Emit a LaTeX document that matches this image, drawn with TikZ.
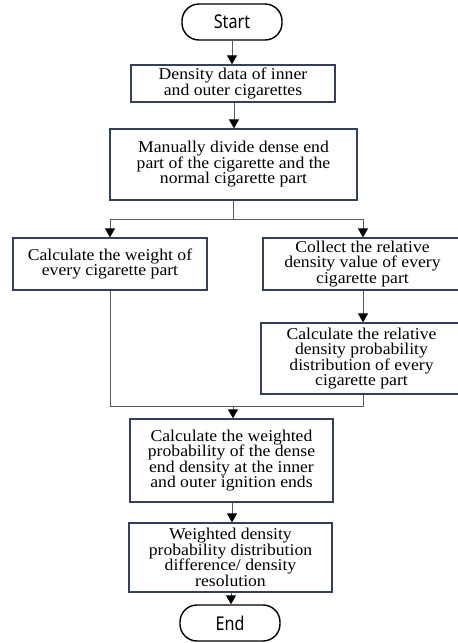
\documentclass[tikz,border=0pt]{standalone}
\usepackage{fontspec}
\setmainfont[FakeStretch=1.07]{Liberation Serif}
\newfontfamily\termfont[FakeStretch=0.85]{Noto Sans}
\usetikzlibrary{arrows.meta}
\definecolor{boxline}{HTML}{34405E}
\definecolor{conn}{HTML}{5A5A5A}
\tikzset{
  procbox/.style={draw=boxline, line width=1.3pt, fill=white, inner sep=0pt, align=center,
    font=\fontsize{16.5}{15.5}\selectfont},
  termbox/.style={draw=black, line width=1.4pt, rounded corners=17pt, inner sep=0pt,
    minimum width=100pt, minimum height=36pt, font=\termfont\fontsize{19}{20}\selectfont},
  flow/.style={draw=conn, line width=1pt},
  flowarrow/.style={flow, -{Triangle[width=10pt,length=9pt,color=black]}}
}
\begin{document}
\begin{tikzpicture}[x=1pt,y=-1pt]
\useasboundingbox (0,0) rectangle (458,643);
\node[termbox] (start) at (232,22) {Start};
\node[procbox, minimum width=204pt, minimum height=37pt] (b1) at (233,83.5)
  {Density data of inner\\and outer cigarettes};
\node[procbox, minimum width=247pt, minimum height=71pt] (b2) at (233.5,164.5)
  {Manually divide dense end\\part of the cigarette and the\\normal cigarette part};
\node[procbox, minimum width=194pt, minimum height=52pt] (left) at (110,264)
  {Calculate the weight of\\every cigarette part};
\node[procbox, minimum width=199pt, minimum height=52pt] (right) at (362.5,264)
  {Collect the relative\\density value of every\\cigarette part};
\node[procbox, minimum width=201pt, minimum height=71pt] (b5) at (361.5,358.5)
  {Calculate the relative\\density probability\\distribution of every\\cigarette part};
\node[procbox, minimum width=203pt, minimum height=83pt] (b6) at (231.5,460.5)
  {Calculate the weighted\\probability of the dense\\end density at the inner\\and outer ignition ends};
\node[procbox, minimum width=203pt, minimum height=69pt] (b7) at (230.5,557.5)
  {Weighted density\\probability distribution\\difference/ density\\resolution};
\node[termbox] (end) at (230,623) {End};

\coordinate (split) at (233.5,219);
\coordinate (splitL) at (110,219);
\coordinate (splitR) at (363,219);
\coordinate (join) at (233,406);
\coordinate (joinL) at (110,406);
\coordinate (joinR) at (363,406);

\draw[flowarrow] (start.south) -- (start.south |- b1.north);
\draw[flowarrow] (b1.south -| 234,0) -- (234,0 |- b2.north);
\draw[flow] (b2.south) -- (split);
\draw[flow] (splitL) -- (splitR);
\draw[flowarrow] (splitL) -- (left.north);
\draw[flowarrow] (splitR) -- (splitR |- right.north);
\draw[flowarrow] (right.south -| splitR) -- (splitR |- b5.north);
\draw[flow] (left.south) -- (joinL) -- (joinR) -- (joinR |- b5.south);
\draw[flowarrow] (join) -- (join |- b6.north);
\draw[flowarrow] (b6.south -| 232,0) -- (232,0 |- b7.north);
\draw[flowarrow] (b7.south -| 231,0) -- (231,0 |- end.north);
\end{tikzpicture}
\end{document}
